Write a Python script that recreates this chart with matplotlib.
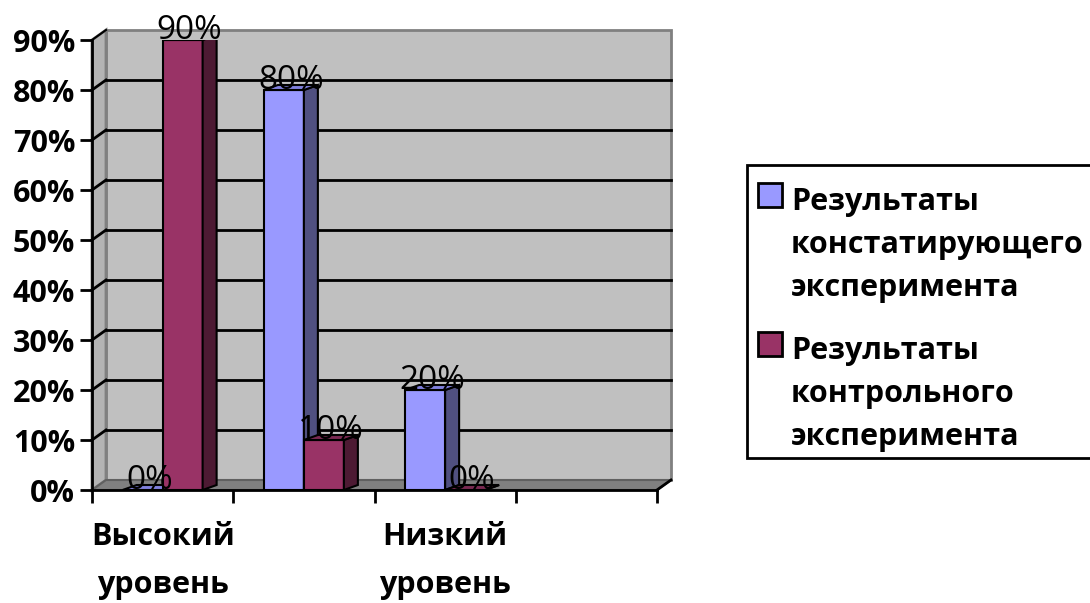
import matplotlib.pyplot as plt
from matplotlib.patches import Polygon, Rectangle

plt.rcParams['font.family'] = ['Open Sans', 'DejaVu Sans']

# data
categories = ['Высокий уровень', 'Средний уровень', 'Низкий уровень', '']
series_names = ['Результаты\nконстатирующего\nэксперимента',
                'Результаты\nконтрольного\nэксперимента']
ascertaining = [0.0, 0.8, 0.2]
control = [0.9, 0.1, 0.0]
yticks = [0.0, 0.1, 0.2, 0.3, 0.4, 0.5, 0.6, 0.7, 0.8, 0.9]

W, H = 1090, 603
FS = 22

fig = plt.figure(figsize=(W / 100, H / 100), dpi=100)
ax = fig.add_axes([92 / W, 1 - 490 / H, (657 - 92) / W, 450 / H])
ncat = len(categories)
ax.set_xlim(0, ncat)
ax.set_ylim(0, 0.9)

# pseudo 3D depth offsets (in data units)
px_x = (657 - 92) / ncat
px_y = 450 / 0.9
DXw, DYw = 14 / px_x, 10 / px_y
DXb, DYb = 14 / px_x, 5 / px_y

# walls
ax.add_patch(Polygon([(DXw, DYw), (ncat + DXw, DYw), (ncat + DXw, 0.9 + DYw), (DXw, 0.9 + DYw)],
                     fc='#C0C0C0', ec='#808080', lw=2, clip_on=False, zorder=0))
ax.add_patch(Polygon([(0, 0), (DXw, DYw), (DXw, 0.9 + DYw), (0, 0.9)],
                     fc='#B4B4B4', ec='#808080', lw=2, clip_on=False, zorder=0))
ax.add_patch(Polygon([(0, 0), (ncat, 0), (ncat + DXw, DYw), (DXw, DYw)],
                     fc='#808080', ec='#606060', lw=1.5, clip_on=False, zorder=0.5))
for y in yticks[1:-1]:
    ax.plot([DXw, ncat + DXw], [y + DYw] * 2, color='black', lw=2, clip_on=False, zorder=1)
    ax.plot([0, DXw], [y, y + DYw], color='black', lw=2, clip_on=False, zorder=1)
ax.plot([0, DXw], [0.9, 0.9 + DYw], color='black', lw=1.5, clip_on=False, zorder=1)
ax.plot([ncat, ncat + DXw], [0, DYw], color='black', lw=2, clip_on=False, zorder=1)

# bars
bw = 40 / px_x
styles = [('#9999FF', '#505080', '#8080DD'), ('#993366', '#4D1A33', '#7A2952')]
for k, vals in enumerate([ascertaining, control]):
    front, side_c, top_c = styles[k]
    xs = [i + 0.5 - bw + k * bw for i in range(len(vals))]
    bars = ax.bar(xs, vals, width=bw, align='edge', color=front, edgecolor='black',
                  lw=1.5, zorder=3 + k)
    for rect, v in zip(bars, vals):
        x0, w, h = rect.get_x(), rect.get_width(), rect.get_height()
        ax.add_patch(Polygon([(x0 + w, 0), (x0 + w + DXb, DYb), (x0 + w + DXb, h + DYb), (x0 + w, h)],
                             fc=side_c, ec='black', lw=1.5, zorder=3 + k))
        ax.add_patch(Polygon([(x0, h), (x0 + w, h), (x0 + w + DXb, h + DYb), (x0 + DXb, h + DYb)],
                             fc=top_c, ec='black', lw=1.5, zorder=3 + k))
        ax.text(x0 + w / 2 + DXb / 2, h + 1 / px_y, f'{v:.0%}', ha='center', va='baseline',
                fontsize=FS + 2, zorder=10, clip_on=False)

# axes styling
for s in ['top', 'right']:
    ax.spines[s].set_visible(False)
ax.spines['left'].set_linewidth(2)
ax.spines['bottom'].set_linewidth(2)
ax.spines['left'].set_zorder(2)
ax.spines['bottom'].set_zorder(2)
ax.set_yticks(yticks)
ax.set_yticklabels([f'{t:.0%}' for t in yticks], fontsize=FS, fontweight='bold')
ax.tick_params(axis='y', length=9, width=2, pad=3)
ax.set_xticks(range(ncat + 1))
ax.set_xticklabels([])
ax.tick_params(axis='x', which='major', length=9, width=2, direction='out')
ax.set_xticks([i + 0.5 for i in range(ncat)], minor=True)
ax.set_xticklabels([c.replace(' ', '\n') if i % 2 == 0 else '' for i, c in enumerate(categories)],
                   minor=True, fontsize=FS, fontweight='bold', linespacing=1.8)
ax.tick_params(axis='x', which='minor', length=0, pad=23)
ax.set_facecolor('none')

# legend
fig.add_artist(Rectangle((747 / W, 1 - 458 / H), (1100 - 747) / W, (458 - 165) / H,
                         transform=fig.transFigure, fc='white', ec='black', lw=2))
colors = [styles[0][0], styles[1][0]]
entry_top = [183, 332]
for name, c, yt in zip(series_names, colors, entry_top):
    fig.add_artist(Rectangle((758 / W, 1 - (yt + 24) / H), 24 / W, 24 / H,
                             transform=fig.transFigure, fc=c, ec='black', lw=2))
    for j, line in enumerate(name.split('\n')):
        fig.text(791 / W, 1 - (yt + 27 + j * 43) / H, line, fontsize=FS, fontweight='bold',
                 va='baseline', ha='left')

fig.savefig('out.png', dpi=100)
